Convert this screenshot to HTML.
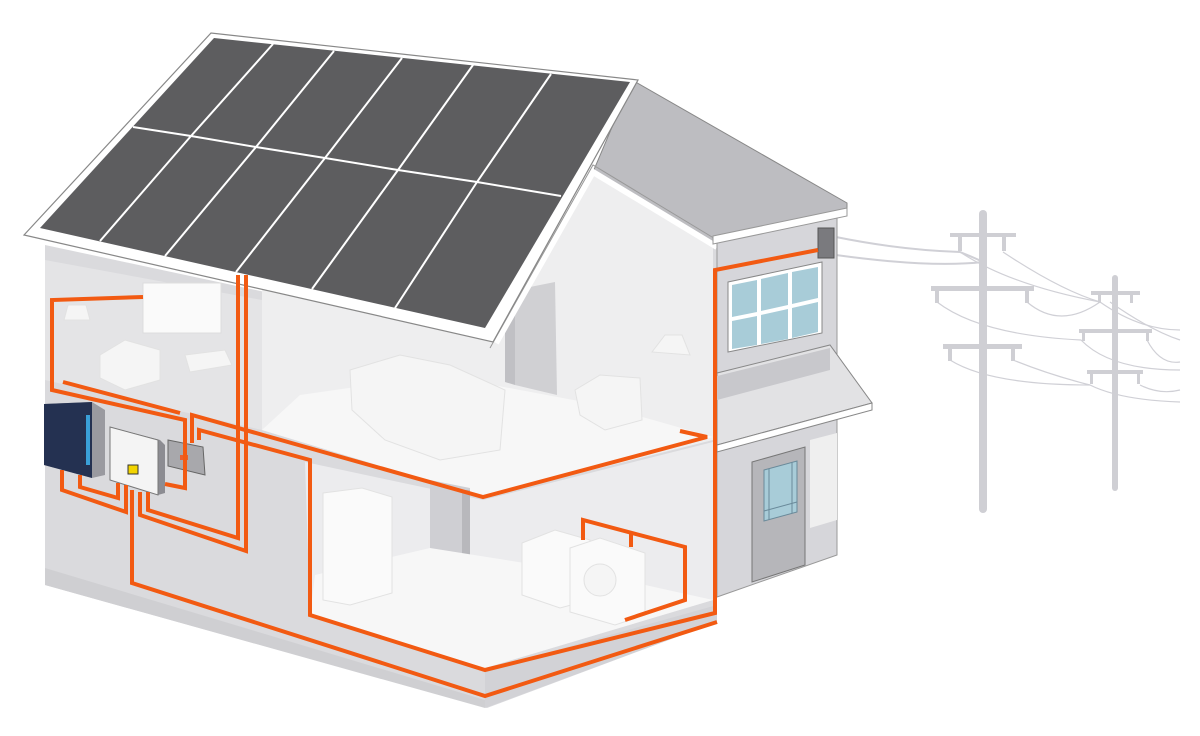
<!DOCTYPE html>
<html><head><meta charset="utf-8"><style>
html,body{margin:0;padding:0;background:#fff;width:1200px;height:736px;overflow:hidden}
svg{display:block}
</style></head><body>
<svg width="1200" height="736" viewBox="0 0 1200 736" xmlns="http://www.w3.org/2000/svg">
<g stroke="#d0d0d6" fill="none">
<path d="M836,237 Q900,250 960,252 Q975,258 983,262" stroke-width="2"/>
<path d="M836,255 Q930,268 983,262" stroke-width="2"/>
<g stroke-width="1.2">
<path d="M1003,252 Q1060,290 1100,302 Q1140,330 1180,330"/>
<path d="M960,252 Q1010,285 1100,302"/>
<path d="M937,302 Q980,335 1081,340 Q1110,370 1180,370"/>
<path d="M1027,302 Q1060,330 1100,302"/>
<path d="M1147,340 Q1160,365 1180,362"/>
<path d="M950,360 Q990,385 1090,385 Q1120,400 1180,402"/>
<path d="M1013,360 Q1050,375 1090,385"/>
<path d="M1140,385 Q1160,395 1180,390"/>
<path d="M1110,302 Q1150,330 1180,340"/>
</g>
</g>
<g fill="#cfcfd4">
<rect x="979" y="210" width="8" height="303" rx="4"/>
<rect x="950" y="233" width="66" height="4"/>
<rect x="931" y="286" width="103" height="5"/>
<rect x="943" y="344" width="79" height="5"/>
<rect x="1112" y="275" width="6" height="216" rx="3"/>
<rect x="1091" y="291" width="49" height="4"/>
<rect x="1079" y="329" width="73" height="4"/>
<rect x="1087" y="370" width="56" height="4"/>
<rect x="958" y="237" width="4" height="14"/><rect x="1002" y="237" width="4" height="14"/>
<rect x="935" y="291" width="4" height="12"/><rect x="1025" y="291" width="4" height="12"/>
<rect x="948" y="349" width="4" height="12"/><rect x="1011" y="349" width="4" height="12"/>
<rect x="1098" y="295" width="3" height="8"/><rect x="1130" y="295" width="3" height="8"/>
<rect x="1082" y="333" width="3" height="8"/><rect x="1146" y="333" width="3" height="8"/>
<rect x="1090" y="374" width="3" height="10"/><rect x="1137" y="374" width="3" height="10"/>
</g>
<polygon points="632,80 847,203 847,215 717,250 593,172" fill="#bdbdc1" stroke="#888" stroke-width="1"/>
<polygon points="45,245 490,340 593,172 717,247 717,622 487,708 45,585" fill="#dadadd"/>
<polygon points="262,285 490,340 593,175 713,248 713,440 483,497 262,430" fill="#eeeeef"/>
<polygon points="515,290 555,282 557,395 515,385" fill="#d0d0d3"/>
<polygon points="505,300 515,290 515,385 505,382" fill="#c0c0c4"/>
<polygon points="45,260 262,300 262,430 45,380" fill="#e4e4e6"/>
<polygon points="262,430 483,497 713,437 600,405 440,375 300,395" fill="#f7f7f7"/>
<polygon points="305,462 483,500 713,442 713,600 485,668 310,615" fill="#ececee"/>
<polygon points="430,480 470,488 470,560 430,550" fill="#cfcfd3"/>
<polygon points="462,490 470,490 470,565 462,560" fill="#b8b8bc"/>
<polygon points="310,615 485,668 713,600 600,575 430,548 315,575" fill="#f7f7f7"/>
<polygon points="45,568 485,700 485,708 45,585" fill="#cfcfd2"/>
<polygon points="485,670 717,605 717,622 485,708" fill="#d2d2d6"/>
<polyline points="496,343 593,172 717,247" fill="none" stroke="#fff" stroke-width="6"/>
<polyline points="490,348 593,165 717,240" fill="none" stroke="#999" stroke-width="1"/>
<polygon points="717,238 837,212 837,555 717,597" fill="#d6d6da" stroke="#999" stroke-width="1"/>
<polygon points="713,236 847,208 847,216 713,244" fill="#fff" stroke="#999" stroke-width="1"/>
<polygon points="728,282 822,262 822,333 728,352" fill="#fff" stroke="#888"/>
<g fill="#a8ccd8">
<polygon points="732,285 757,280 757,312 732,317"/>
<polygon points="761,279 788,273 788,305 761,311"/>
<polygon points="792,272 818,267 818,298 792,304"/>
<polygon points="732,321 757,316 757,345 732,349"/>
<polygon points="761,315 788,309 788,339 761,344"/>
<polygon points="792,308 818,302 818,332 792,338"/>
</g>
<rect x="818" y="228" width="16" height="30" fill="#7a7a7e" stroke="#555"/>
<polygon points="717,373 830,345 872,403 717,445" fill="#e2e2e4" stroke="#888"/>
<polygon points="717,376 830,348 830,370 717,400" fill="#c8c8cc"/>
<polygon points="717,445 872,403 872,410 717,452" fill="#fff" stroke="#888"/>
<polygon points="752,462 805,447 805,565 752,582" fill="#b6b6ba" stroke="#777"/>
<polygon points="764,470 797,461 797,512 764,521" fill="#a8ccd8" stroke="#6a8a9a"/>
<line x1="769" y1="469" x2="769" y2="520" stroke="#6a8a9a"/>
<line x1="792" y1="462" x2="792" y2="513" stroke="#6a8a9a"/>
<line x1="764" y1="511" x2="797" y2="502" stroke="#6a8a9a"/>
<polygon points="810,440 837,433 837,520 810,528" fill="#efefef"/>
<polygon points="24,235 211,33 638,80 493,342" fill="#fff" stroke="#888" stroke-width="1.2"/>
<polygon points="214,38 630,82 485,328 40,228" fill="#5d5d5f"/>
<g stroke="#fff" stroke-width="2" fill="none">
<polyline points="133,127 191,136 256,147 325,158 398,170 477,182 561,196"/>
<polyline points="273,44 191,136 100,241"/>
<polyline points="334,51 256,147 165,256"/>
<polyline points="402,58 325,158 236,272"/>
<polyline points="473,65 398,170 312,289"/>
<polyline points="551,74 477,182 395,308"/>
</g>
<g fill="#f5f5f5" stroke="#e2e2e2" stroke-width="1">
<rect x="143" y="283" width="78" height="50" fill="#fafafa" stroke="#ddd"/>
<path d="M100,355 L125,340 L160,350 L160,380 L125,390 L100,378Z"/>
<path d="M185,355 L225,350 L232,365 L190,372Z"/>
<path d="M68,305 L86,305 L90,320 L64,320Z"/>
<path d="M350,370 L400,355 L450,365 L505,390 L500,450 L440,460 L385,440 L352,410Z"/>
<path d="M575,390 L600,375 L640,378 L642,420 L605,430 L580,415Z"/>
<path d="M652,352 L665,335 L682,335 L690,355Z"/>
<path d="M323,493 L362,488 L392,497 L392,593 L350,605 L323,600Z" fill="#fafafa"/>
<path d="M522,543 L555,530 L590,540 L590,600 L560,608 L522,595Z" fill="#fafafa"/>
<path d="M570,548 L600,538 L645,553 L645,615 L615,625 L570,612Z" fill="#fafafa"/>
<circle cx="600" cy="580" r="16"/>
</g>
<polygon points="44,404 92,402 105,410 105,475 92,478 44,465" fill="#9a9aa0"/>
<polygon points="44,404 92,402 92,478 44,465" fill="#243151"/>
<rect x="86" y="415" width="4" height="50" fill="#3aa0d8"/>
<polygon points="110,427 160,440 165,445 165,493 158,495 110,478" fill="#8c8c92"/>
<polygon points="110,427 158,440 158,495 110,480" fill="#f4f4f4" stroke="#777"/>
<rect x="128" y="465" width="10" height="9" fill="#f2d400" stroke="#333"/>
<polygon points="168,440 203,447 205,475 168,466" fill="#a8a8ac" stroke="#666"/>
<rect x="180" y="455" width="8" height="5" fill="#e86030"/>
<g fill="none" stroke="#f25a12" stroke-width="4" stroke-linejoin="miter">
<polyline points="143,297 52,300 52,390 185,420 185,488 165,484"/>
<polyline points="63,382 180,413"/>
<polyline points="192,443 192,415 483,497 707,437 680,431"/>
<polyline points="199,440 199,430 310,460 310,615 485,670 715,613 715,270 818,250"/>
<polyline points="132,490 132,583 485,696 717,622"/>
<polyline points="238,275 238,538 148,510 148,492"/>
<polyline points="246,275 246,551 140,515 140,492"/>
<polyline points="62,470 62,490 126,512 126,485"/>
<polyline points="80,475 80,487 118,498 118,483"/>
<polyline points="583,540 583,520 685,547 685,600 625,620"/>
<polyline points="631,533 631,547"/>
</g>
</svg>
</body></html>
